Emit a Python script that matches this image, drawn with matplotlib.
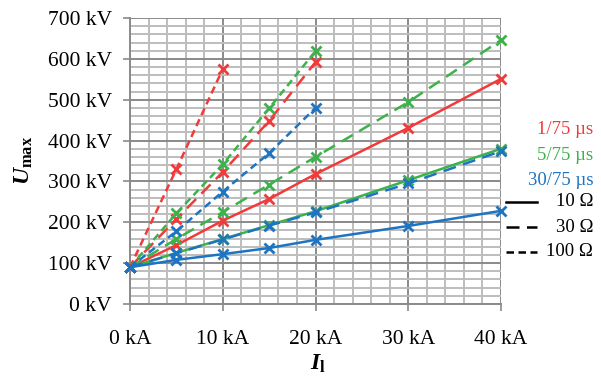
import matplotlib
matplotlib.use("Agg")
import matplotlib.pyplot as plt
from matplotlib.lines import Line2D
from matplotlib.ticker import MultipleLocator, FuncFormatter

plt.rcParams['font.family'] = ['Liberation Serif', 'DejaVu Serif']
plt.rcParams['mathtext.fontset'] = 'custom'
plt.rcParams['mathtext.rm'] = 'Liberation Serif'
plt.rcParams['mathtext.it'] = 'Liberation Serif:italic:bold'
plt.rcParams['mathtext.bf'] = 'Liberation Serif:bold'

# ---- data ----
I_full = [0, 5, 10, 15, 20, 30, 40]
I_20 = [0, 5, 10, 15, 20]
I_10 = [0, 5, 10]

red_10 = [90, 144, 204, 257, 318, 431, 551]
red_30 = [90, 208, 323, 448, 592]
red_100 = [90, 330, 575]
green_10 = [90, 125, 159, 193, 227, 303, 380]
green_30 = [90, 159, 225, 292, 360, 494, 646]
green_100 = [90, 222, 342, 479, 619]
blue_10 = [90, 108, 122, 137, 157, 191, 228]
blue_30 = [90, 124, 158, 192, 224, 295, 374]
blue_100 = [90, 178, 275, 369, 480]

wave_labels = ['1/75 µs', '5/75 µs', '30/75 µs']
res_labels = ['10 Ω', '30 Ω', '100 Ω']
x_ticks = [0, 10, 20, 30, 40]
y_ticks = [0, 100, 200, 300, 400, 500, 600, 700]

RED = '#F23A3A'
GREEN = '#3CB34A'
BLUE = '#1C74C2'
LW = 1.8
styles = {
    '10': dict(linestyle='-'),
    '30': dict(linestyle=(0, (5.2, 3.0))),
    '100': dict(linestyle=(0, (3.0, 1.8))),
}

fig = plt.figure(figsize=(6.01, 3.81), dpi=100)
ax = fig.add_axes([130/601, 1-304/381, 371/601, 286/381])

series = [
    (I_full, red_10, RED, '10'), (I_20, red_30, RED, '30'), (I_10, red_100, RED, '100'),
    (I_full, green_10, GREEN, '10'), (I_full, green_30, GREEN, '30'), (I_20, green_100, GREEN, '100'),
    (I_full, blue_10, BLUE, '10'), (I_full, blue_30, BLUE, '30'), (I_20, blue_100, BLUE, '100'),
]
for xs, ys, c, s in series:
    ax.plot(xs, ys, color=c, lw=LW, marker='x', markersize=6.5, mew=2.0,
            clip_on=False, zorder=3, **styles[s])

ax.set_xlim(0, 40)
ax.set_ylim(0, 700)
ax.set_xticks(x_ticks)
ax.set_yticks(y_ticks)
ax.xaxis.set_minor_locator(MultipleLocator(2))
ax.yaxis.set_minor_locator(MultipleLocator(20))
ax.xaxis.set_major_formatter(FuncFormatter(lambda v, p: f'{int(v)} kA'))
ax.yaxis.set_major_formatter(FuncFormatter(lambda v, p: f'{int(v)} kV'))
ax.grid(which='minor', color='#BDBDBD', lw=1.4, zorder=0)
ax.grid(which='major', color='#8A8A8A', lw=1.4, zorder=1)
ax.set_axisbelow(True)
for sp in ['top', 'right']:
    ax.spines[sp].set_visible(False)
for sp in ['left', 'bottom']:
    ax.spines[sp].set_color('#8A8A8A')
    ax.spines[sp].set_linewidth(1.4)
ax.tick_params(which='major', length=5, width=1.2, color='#8A8A8A', labelsize=15.5)
ax.tick_params(axis='x', which='major', pad=14)
ax.tick_params(axis='y', which='major', pad=8)
ax.tick_params(which='minor', length=0)

fig.text(318/601, 1-364/381, r'$\mathit{I}_{\mathbf{l}}$', fontsize=17,
         ha='center', va='center')
fig.text(24/601, 1-160/381, r'$\mathit{U}_{\mathbf{max}}$', fontsize=17,
         ha='center', va='center', rotation=90)

# legend (manual)
for lab, c, y in zip(wave_labels, [RED, GREEN, BLUE], [130, 155, 180]):
    fig.text(593/601, 1-y/381, lab, color=c, fontsize=13.5, ha='right', va='center')
for lab, s, y in zip(res_labels, ['10', '30', '100'], [202, 227, 252]):
    fig.text(593/601, 1-y/381, lab, color='black', fontsize=13.5, ha='right', va='center')
    fig.add_artist(Line2D([506/601, 537/601], [1-y/381, 1-y/381], color='black',
                          lw=LW, transform=fig.transFigure, **styles[s]))

fig.savefig('out.png', dpi=100)
